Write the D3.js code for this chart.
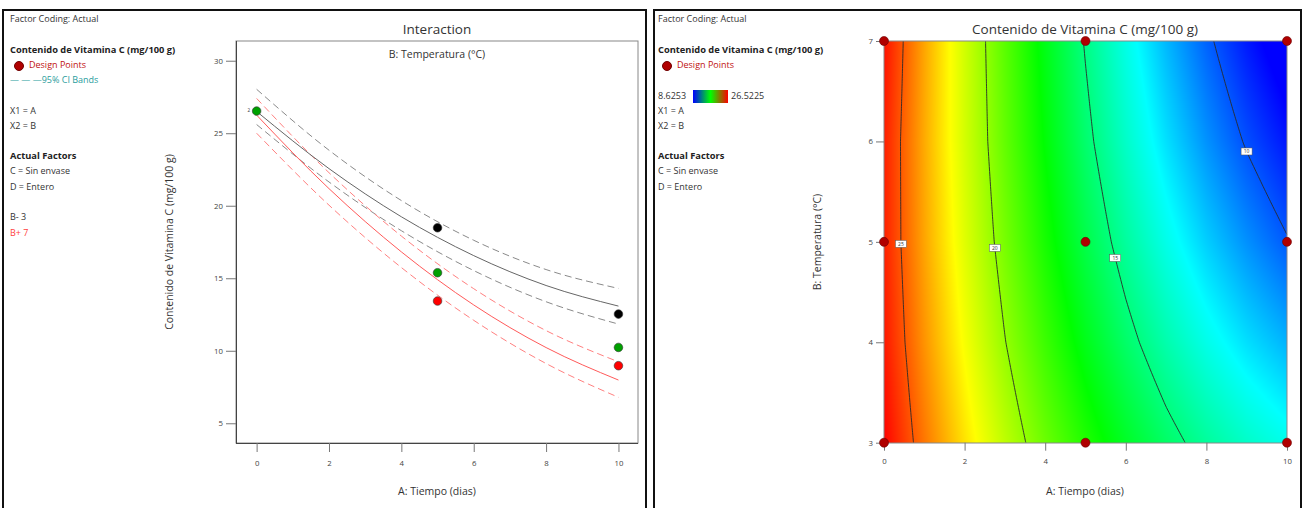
<!DOCTYPE html>
<html><head><meta charset="utf-8">
<script src="https://cdn.jsdelivr.net/npm/d3@7"></script>
<style>body{margin:0;background:#fff;font-family:"Open Sans",sans-serif}</style>
</head><body>
<svg id="c" width="1305" height="508"></svg>
<script>
// ---------- Interaction plot data ----------
const tiempoCurve = [0, 2, 4, 6, 8, 10];
const vitB3 = [26.50, 22.56, 19.24, 16.56, 14.50, 13.08];
const vitB3Hi = [28.03, 23.83, 20.36, 17.62, 15.60, 14.30];
const vitB3Lo = [25.60, 21.64, 18.28, 15.53, 13.38, 11.84];
const vitB7 = [26.25, 21.18, 16.82, 13.16, 10.22, 7.98];
const vitB7Hi = [27.40, 22.28, 17.91, 14.28, 11.39, 9.24];
const vitB7Lo = [25.00, 20.04, 15.74, 12.10, 9.12, 6.79];
const ptA = [0, 5, 5, 5, 10, 10, 10];
const ptV = [26.53, 18.48, 15.38, 13.43, 12.53, 10.23, 8.97];
const ptGroup = ["mid", "B3", "mid", "B7", "B3", "mid", "B7"];
const leftXTicks = [0, 2, 4, 6, 8, 10];
const leftYTicks = [5, 10, 15, 20, 25, 30];

// ---------- Contour plot data (response grid) ----------
const gridA = [0, 1, 2, 3, 4, 5, 6, 7, 8, 9, 10];
const gridB = [3, 4, 5, 6, 7];
const gridB3 = [26.50, 24.45, 22.56, 20.82, 19.24, 17.82, 16.56, 15.45, 14.50, 13.71, 13.08];
const gridB4 = [26.14, 23.95, 21.92, 20.04, 18.34, 16.79, 15.41, 14.19, 13.13, 12.24, 11.51];
const gridB5 = [25.98, 23.64, 21.47, 19.47, 17.63, 15.96, 14.46, 13.13, 11.96, 10.96, 10.08];
const gridB6 = [26.01, 23.54, 21.23, 19.09, 17.13, 15.33, 13.71, 12.26, 10.99, 9.89, 8.96];
const gridB7 = [26.25, 23.63, 21.18, 18.91, 16.82, 14.90, 13.16, 11.60, 10.22, 9.01, 7.98];
const contourLevels = [25, 20, 15, 10];
const contourLabelB = [4.98, 4.94, 4.84, 5.9];
const designA = [0, 5, 10, 0, 5, 10, 0, 5, 10];
const designB = [7, 7, 7, 5, 5, 5, 3, 3, 3];
const colorMin = 8.6253, colorMax = 26.5225;
const rightXTicks = [0, 2, 4, 6, 8, 10];
const rightYTicks = [3, 4, 5, 6, 7];

const svg = d3.select("#c");
const FONT = "'Open Sans', sans-serif";

// panel borders
svg.append("rect").attr("x", 3).attr("y", 10).attr("width", 643).attr("height", 520)
  .attr("fill", "none").attr("stroke", "#111").attr("stroke-width", 2);
svg.append("rect").attr("x", 654).attr("y", 10).attr("width", 647).attr("height", 520)
  .attr("fill", "none").attr("stroke", "#111").attr("stroke-width", 2);

function txt(x, y, s, opts = {}) {
  return svg.append("text").attr("x", x).attr("y", y).text(s)
    .attr("font-family", FONT).attr("font-size", opts.size || 9)
    .attr("font-weight", opts.bold ? "bold" : "normal")
    .attr("fill", opts.fill || "#333")
    .attr("text-anchor", opts.anchor || "start")
    .attr("dominant-baseline", "middle");
}

// ---------- left legend ----------
txt(10, 20, "Factor Coding: Actual");
txt(10, 51, "Contenido de Vitamina C (mg/100 g)", {bold: true, fill: "#222", size: 9.3});
svg.append("circle").attr("cx", 19).attr("cy", 66).attr("r", 4.5).attr("fill", "#b00000").attr("stroke", "#700000");
txt(29, 66, "Design Points", {fill: "#c01010"});
txt(10, 81, "—  —  —95% CI Bands", {fill: "#2a9d9d"});
txt(10, 112, "X1 = A");
txt(10, 127, "X2 = B");
txt(10, 157, "Actual Factors", {bold: true, fill: "#222", size: 9.3});
txt(10, 172, "C = Sin envase");
txt(10, 188, "D = Entero");
txt(10, 218, "B- 3");
txt(10, 234, "B+ 7", {fill: "#ff4040"});

// ---------- left plot ----------
const lx = d3.scaleLinear().domain([-0.57, 10.54]).range([236, 638]);
const ly = d3.scaleLinear().domain([3.64, 31.36]).range([443, 41]);
svg.append("rect").attr("x", 236).attr("y", 41).attr("width", 402).attr("height", 402)
  .attr("fill", "none").attr("stroke", "#888").attr("stroke-width", 1);

const gxl = svg.append("g").attr("transform", "translate(0,443)")
  .call(d3.axisBottom(lx).tickValues(leftXTicks).tickSize(9).tickPadding(8));
const gyl = svg.append("g").attr("transform", "translate(236,0)")
  .call(d3.axisLeft(ly).tickValues(leftYTicks).tickSize(10).tickPadding(3));
[gxl, gyl].forEach(g => {
  g.select(".domain").attr("stroke", "#444");
  g.selectAll(".tick line").attr("stroke", "#777");
  g.selectAll("text").attr("font-family", FONT).attr("font-size", 7.8).attr("fill", "#444");
});
gxl.select(".domain").attr("d", "M236,0.5H638");
gyl.select(".domain").attr("d", "M0.5,41V443");

txt(437, 30, "Interaction", {size: 13.5, fill: "#333", anchor: "middle"});
txt(437, 55, "B: Temperatura (°C)", {size: 10.5, fill: "#333", anchor: "middle"});
txt(437, 492, "A: Tiempo (dias)", {size: 10.5, fill: "#333", anchor: "middle"});
svg.append("text").attr("transform", "translate(170,242) rotate(-90)")
  .attr("text-anchor", "middle").attr("dominant-baseline", "middle")
  .attr("font-family", FONT).attr("font-size", 10.5).attr("fill", "#333")
  .text("Contenido de Vitamina C (mg/100 g)");

const line = d3.line().x((d, i) => lx(tiempoCurve[i])).y(d => ly(d)).curve(d3.curveMonotoneX);
function curve(vals, color, dashed, w) {
  svg.append("path").attr("d", line(vals)).attr("fill", "none").attr("stroke", color)
    .attr("stroke-width", w || 1).attr("stroke-dasharray", dashed ? "7,4" : null);
}
curve(vitB3Hi, "#8a8a8a", true);
curve(vitB3Lo, "#8a8a8a", true);
curve(vitB7Hi, "#ff8080", true);
curve(vitB7Lo, "#ff8080", true);
curve(vitB3, "#666666", false);
curve(vitB7, "#ff5a5a", false);

const ptColor = {mid: "#00a000", B3: "#000000", B7: "#ff0000"};
svg.selectAll("circle.lp").data(ptA).enter().append("circle").attr("class", "lp")
  .attr("cx", d => lx(d)).attr("cy", (d, i) => ly(ptV[i])).attr("r", 4.3)
  .attr("fill", (d, i) => ptColor[ptGroup[i]]).attr("stroke", "#333").attr("stroke-width", 0.6);
txt(lx(0) - 9, ly(ptV[0]), "2", {size: 4.5, fill: "#333"});

// ---------- right legend ----------
txt(658, 20, "Factor Coding: Actual");
txt(658, 51, "Contenido de Vitamina C (mg/100 g)", {bold: true, fill: "#222", size: 9.3});
svg.append("circle").attr("cx", 667).attr("cy", 66).attr("r", 4.5).attr("fill", "#b00000").attr("stroke", "#700000");
txt(677, 66, "Design Points", {fill: "#c01010"});
const defs = svg.append("defs");
const lg = defs.append("linearGradient").attr("id", "cb");
[["0%", "#0000ff"], ["50%", "#00ff00"], ["100%", "#ff0000"]].forEach(([o, c]) =>
  lg.append("stop").attr("offset", o).attr("stop-color", c));
txt(658, 97, "8.6253");
svg.append("rect").attr("x", 693).attr("y", 90).attr("width", 35).attr("height", 13).attr("fill", "url(#cb)");
txt(731, 97, "26.5225");
txt(658, 112, "X1 = A");
txt(658, 127, "X2 = B");
txt(658, 157, "Actual Factors", {bold: true, fill: "#222", size: 9.3});
txt(658, 172, "C = Sin envase");
txt(658, 188, "D = Entero");

// ---------- right contour plot ----------
const rx = d3.scaleLinear().domain([0, 10]).range([884, 1287]);
const ry = d3.scaleLinear().domain([3, 7]).range([442.7, 41]);
const gridRows = [gridB3, gridB4, gridB5, gridB6, gridB7];
function value(a, b) {
  const ia = Math.max(0, Math.min(gridA.length - 2, Math.floor(a - gridA[0])));
  const ib = Math.max(0, Math.min(gridB.length - 2, Math.floor(b - gridB[0])));
  const ta = (a - gridA[ia]) / (gridA[ia + 1] - gridA[ia]);
  const tb = (b - gridB[ib]) / (gridB[ib + 1] - gridB[ib]);
  const v00 = gridRows[ib][ia], v10 = gridRows[ib][ia + 1];
  const v01 = gridRows[ib + 1][ia], v11 = gridRows[ib + 1][ia + 1];
  return (v00 * (1 - ta) + v10 * ta) * (1 - tb) + (v01 * (1 - ta) + v11 * ta) * tb;
}
const span = colorMax - colorMin;
const color = d3.scaleLinear()
  .domain([colorMin, colorMin + span * 0.23, colorMin + span * 0.48, colorMin + span * 0.75, colorMax])
  .range(["#0000ff", "#00ffff", "#00ff00", "#ffff00", "#ff0000"]).clamp(true);

const pw = Math.round(rx(10) - rx(0)), ph = Math.round(ry(3) - ry(7));
const cv = document.createElement("canvas");
cv.width = pw; cv.height = ph;
const ctx = cv.getContext("2d");
const img = ctx.createImageData(pw, ph);
for (let j = 0; j < ph; j++) {
  const b = ry.invert(ry(7) + j + 0.5);
  for (let i = 0; i < pw; i++) {
    const a = rx.invert(rx(0) + i + 0.5);
    const c = d3.rgb(color(value(a, b)));
    const k = (j * pw + i) * 4;
    img.data[k] = c.r; img.data[k + 1] = c.g; img.data[k + 2] = c.b; img.data[k + 3] = 255;
  }
}
ctx.putImageData(img, 0, 0);
svg.append("image").attr("x", rx(0)).attr("y", ry(7)).attr("width", pw).attr("height", ph)
  .attr("preserveAspectRatio", "none").attr("href", cv.toDataURL());

// contour lines: find crossing in A for each B
function crossA(level, b) {
  const n = 400;
  let prev = value(0, b);
  for (let s = 1; s <= n; s++) {
    const a = 10 * s / n, v = value(a, b);
    if ((prev - level) * (v - level) <= 0 && prev !== v) {
      return a - 10 / n * (v - level) / (v - prev);
    }
    prev = v;
  }
  return null;
}
const bSamples = d3.range(0, 161).map(k => 3 + 4 * k / 160);
contourLevels.forEach((lev, li) => {
  const pts = bSamples.map(b => [crossA(lev, b), b]).filter(p => p[0] !== null);
  svg.append("path").attr("d", d3.line().x(p => rx(p[0])).y(p => ry(p[1])).curve(d3.curveBasis)(pts))
    .attr("fill", "none").attr("stroke", "#2a2a2a").attr("stroke-width", 0.9);
  const lb = contourLabelB[li], la = crossA(lev, lb);
  if (la !== null) {
    svg.append("rect").attr("x", rx(la) - 5.5).attr("y", ry(lb) - 3.5).attr("width", 11).attr("height", 7)
      .attr("fill", "#fff").attr("stroke", "#555").attr("stroke-width", 0.5);
    svg.append("text").attr("x", rx(la)).attr("y", ry(lb) + 0.3).text(lev)
      .attr("text-anchor", "middle").attr("dominant-baseline", "middle")
      .attr("font-family", FONT).attr("font-size", 5).attr("fill", "#333");
  }
});

svg.append("rect").attr("x", rx(0)).attr("y", ry(7)).attr("width", pw).attr("height", ph)
  .attr("fill", "none").attr("stroke", "#888").attr("stroke-width", 1);
const gxr = svg.append("g").attr("transform", `translate(0,${ry(3)})`)
  .call(d3.axisBottom(rx).tickValues(rightXTicks).tickSize(8).tickPadding(8).tickFormat(d3.format("d")));
const gyr = svg.append("g").attr("transform", `translate(${rx(0)},0)`)
  .call(d3.axisLeft(ry).tickValues(rightYTicks).tickSize(8).tickPadding(3).tickFormat(d3.format("d")));
[gxr, gyr].forEach(g => {
  g.select(".domain").remove();
  g.selectAll(".tick line").attr("stroke", "#777");
  g.selectAll("text").attr("font-family", FONT).attr("font-size", 7.8).attr("fill", "#444");
});

svg.selectAll("circle.rp").data(designA).enter().append("circle").attr("class", "rp")
  .attr("cx", d => rx(d)).attr("cy", (d, i) => ry(designB[i])).attr("r", 4.5)
  .attr("fill", "#b00000").attr("stroke", "#6a0000").attr("stroke-width", 0.6);

txt(1085, 30, "Contenido de Vitamina C (mg/100 g)", {size: 13.5, fill: "#333", anchor: "middle"});
txt(1085, 492, "A: Tiempo (dias)", {size: 10.5, fill: "#333", anchor: "middle"});
svg.append("text").attr("transform", "translate(818,242) rotate(-90)")
  .attr("text-anchor", "middle").attr("dominant-baseline", "middle")
  .attr("font-family", FONT).attr("font-size", 10.5).attr("fill", "#333")
  .text("B: Temperatura (°C)");
</script>
</body></html>
